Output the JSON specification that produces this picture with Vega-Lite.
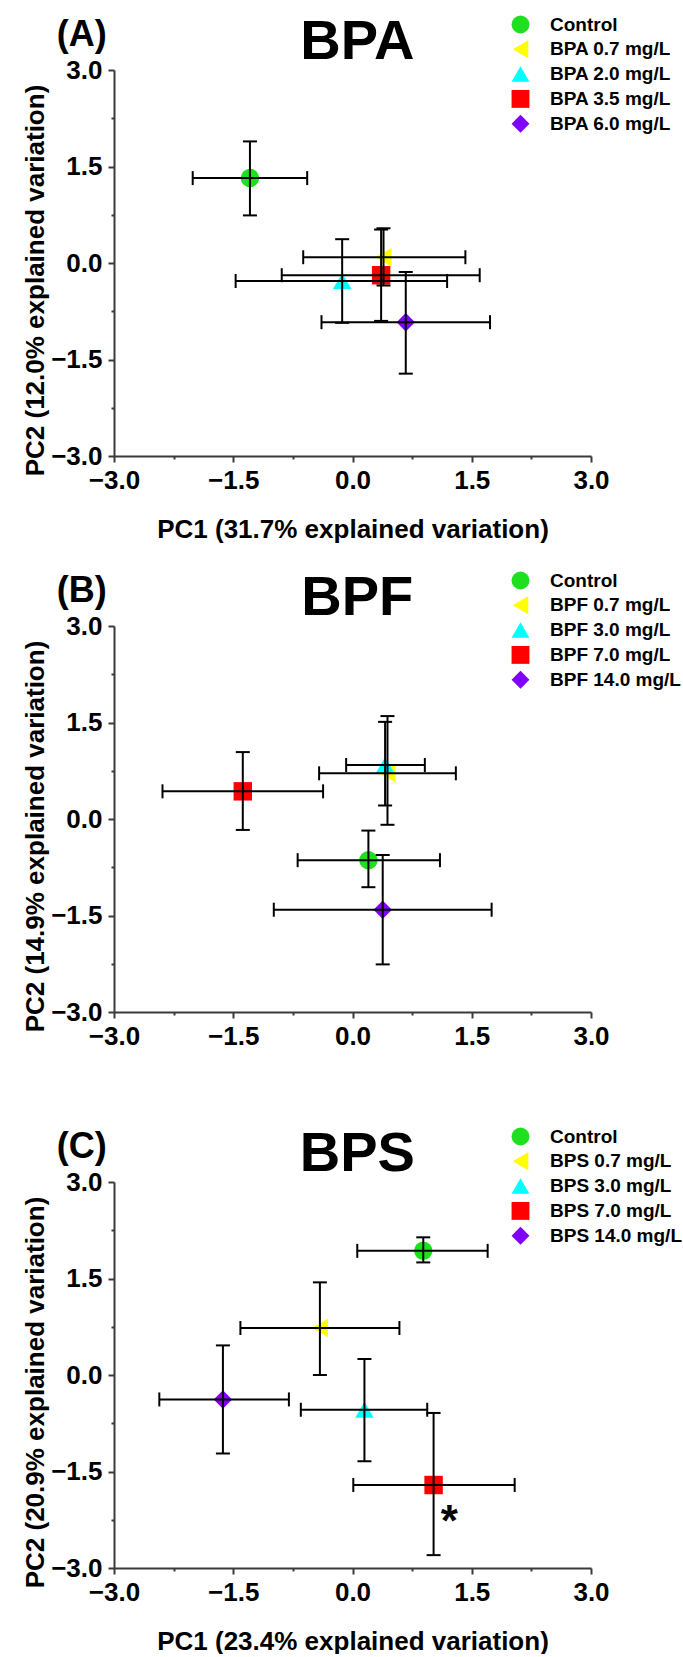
{
  "$schema": "https://vega.github.io/schema/vega-lite/v6.json",
  "padding": {"left": 21, "top": 14, "right": 0, "bottom": 0},
  "background": "white",
  "config": {
    "font": "Liberation Sans",
    "view": {"stroke": null},
    "axis": {
      "domainColor": "#3a3a3a", "domainWidth": 2, "tickColor": "#3a3a3a", "tickWidth": 2,
      "labelFont": "Liberation Sans", "labelFontSize": 26, "labelFontWeight": "bold", "labelColor": "#000",
      "titleFont": "Liberation Sans", "titleFontSize": 26, "titleFontWeight": "bold", "titleColor": "#000",
      "grid": false, "labelOverlap": false, "labelBound": false, "labelFlush": false, "labelPadding": 5
    },
    "axisX": {"titleBaseline": "alphabetic", "titleY": 81},
    "axisY": {"titleAngle": -90, "titleBaseline": "alphabetic", "titleAlign": "center", "titleX": -71, "titleY": 210, "labelPadding": 6},
    "legend": {
      "labelFont": "Liberation Sans", "labelFontSize": 19, "labelFontWeight": "bold", "labelColor": "#000",
      "symbolSize": 320, "rowPadding": 4.8, "labelOffset": 20, "padding": 0, "symbolStrokeWidth": 0, "labelLimit": 0
    }
  },
  "vconcat": [
    {
      "width": 477, "height": 386,
      "data": {"values": [
        {"group": "Control", "x": -1.29, "y": 1.32, "xlo": -2.01, "xhi": -0.57, "ylo": 0.74, "yhi": 1.89},
        {"group": "BPA 0.7 mg/L", "x": 0.39, "y": 0.09, "xlo": -0.62, "xhi": 1.42, "ylo": -0.35, "yhi": 0.54},
        {"group": "BPA 2.0 mg/L", "x": -0.13, "y": -0.28, "xlo": -1.47, "xhi": 1.19, "ylo": -0.93, "yhi": 0.37},
        {"group": "BPA 3.5 mg/L", "x": 0.36, "y": -0.19, "xlo": -0.89, "xhi": 1.6, "ylo": -0.9, "yhi": 0.52},
        {"group": "BPA 6.0 mg/L", "x": 0.67, "y": -0.92, "xlo": -0.39, "xhi": 1.73, "ylo": -1.72, "yhi": -0.14}
      ]},
      "layer": [
        {
          "mark": {"type": "point", "filled": true, "size": 340, "opacity": 1, "strokeWidth": 0},
          "encoding": {
            "x": {"field": "x", "type": "quantitative", "scale": {"domain": [-3, 3], "nice": false, "zero": false}, "title": "PC1 (31.7% explained variation)",
              "axis": {"values": [-3, -2.25, -1.5, -0.75, 0, 0.75, 1.5, 2.25, 3], "labelExpr": "abs(datum.value % 1.5) < 0.001 ? format(datum.value, '.1f') : ''", "tickSize": {"condition": {"test": "abs(datum.value % 1.5) < 0.001", "value": 6}, "value": 3}}},
            "y": {"field": "y", "type": "quantitative", "scale": {"domain": [-3, 3], "nice": false, "zero": false}, "title": "PC2 (12.0% explained variation)",
              "axis": {"values": [-3, -2.25, -1.5, -0.75, 0, 0.75, 1.5, 2.25, 3], "labelExpr": "abs(datum.value % 1.5) < 0.001 ? format(datum.value, '.1f') : ''", "tickSize": {"condition": {"test": "abs(datum.value % 1.5) < 0.001", "value": 6}, "value": 3}}},
            "color": {"field": "group", "type": "nominal", "scale": {"domain": ["Control", "BPA 0.7 mg/L", "BPA 2.0 mg/L", "BPA 3.5 mg/L", "BPA 6.0 mg/L"], "range": ["#1ee01e", "#ffff00", "#00ffff", "#ff0000", "#8000ff"]}, "legend": {"title": null, "orient": "none", "legendX": 397, "legendY": -55}},
            "shape": {"field": "group", "type": "nominal", "scale": {"domain": ["Control", "BPA 0.7 mg/L", "BPA 2.0 mg/L", "BPA 3.5 mg/L", "BPA 6.0 mg/L"], "range": ["circle", "triangle-left", "triangle-up", "square", "diamond"]}, "legend": {"title": null, "orient": "none", "legendX": 397, "legendY": -55}}
          }
        },
        {"mark": {"type": "rule", "color": "#000", "strokeWidth": 2},
          "encoding": {"x": {"field": "xlo", "type": "quantitative", "title": "PC1 (31.7% explained variation)"}, "x2": {"field": "xhi"}, "y": {"field": "y", "type": "quantitative", "title": "PC2 (12.0% explained variation)"}}},
        {"mark": {"type": "rule", "color": "#000", "strokeWidth": 2},
          "encoding": {"x": {"field": "x", "type": "quantitative", "title": "PC1 (31.7% explained variation)"}, "y": {"field": "ylo", "type": "quantitative", "title": "PC2 (12.0% explained variation)"}, "y2": {"field": "yhi"}}},
        {"mark": {"type": "tick", "orient": "vertical", "color": "#000", "size": 14, "thickness": 2, "opacity": 1},
          "encoding": {"x": {"field": "xlo", "type": "quantitative", "title": "PC1 (31.7% explained variation)"}, "y": {"field": "y", "type": "quantitative", "title": "PC2 (12.0% explained variation)"}}},
        {"mark": {"type": "tick", "orient": "vertical", "color": "#000", "size": 14, "thickness": 2, "opacity": 1},
          "encoding": {"x": {"field": "xhi", "type": "quantitative", "title": "PC1 (31.7% explained variation)"}, "y": {"field": "y", "type": "quantitative", "title": "PC2 (12.0% explained variation)"}}},
        {"mark": {"type": "tick", "orient": "horizontal", "color": "#000", "size": 14, "thickness": 2, "opacity": 1},
          "encoding": {"x": {"field": "x", "type": "quantitative", "title": "PC1 (31.7% explained variation)"}, "y": {"field": "ylo", "type": "quantitative", "title": "PC2 (12.0% explained variation)"}}},
        {"mark": {"type": "tick", "orient": "horizontal", "color": "#000", "size": 14, "thickness": 2, "opacity": 1},
          "encoding": {"x": {"field": "x", "type": "quantitative", "title": "PC1 (31.7% explained variation)"}, "y": {"field": "yhi", "type": "quantitative", "title": "PC2 (12.0% explained variation)"}}},
        {"data": {"values": [{"label": "(A)", "x": -3.72, "y": 3.37}]},
          "mark": {"type": "text", "align": "left", "baseline": "alphabetic", "fontSize": 36, "fontWeight": "bold", "color": "#000"},
          "encoding": {"x": {"field": "x", "type": "quantitative", "title": "PC1 (31.7% explained variation)"}, "y": {"field": "y", "type": "quantitative", "title": "PC2 (12.0% explained variation)"}, "text": {"field": "label"}}},
        {"data": {"values": [{"label": "BPA", "x": 0.06, "y": 3.17}]},
          "mark": {"type": "text", "align": "center", "baseline": "alphabetic", "fontSize": 56, "fontWeight": "bold", "color": "#000"},
          "encoding": {"x": {"field": "x", "type": "quantitative", "title": "PC1 (31.7% explained variation)"}, "y": {"field": "y", "type": "quantitative", "title": "PC2 (12.0% explained variation)"}, "text": {"field": "label"}}}
      ]
    },
    {
      "width": 477, "height": 386,
      "data": {"values": [
        {"group": "Control", "x": 0.2, "y": -0.64, "xlo": -0.69, "xhi": 1.1, "ylo": -1.06, "yhi": -0.18},
        {"group": "BPF 0.7 mg/L", "x": 0.44, "y": 0.71, "xlo": -0.42, "xhi": 1.3, "ylo": -0.09, "yhi": 1.6},
        {"group": "BPF 3.0 mg/L", "x": 0.41, "y": 0.84, "xlo": -0.08, "xhi": 0.91, "ylo": 0.21, "yhi": 1.51},
        {"group": "BPF 7.0 mg/L", "x": -1.38, "y": 0.43, "xlo": -2.39, "xhi": -0.37, "ylo": -0.17, "yhi": 1.04},
        {"group": "BPF 14.0 mg/L", "x": 0.38, "y": -1.41, "xlo": -0.99, "xhi": 1.75, "ylo": -2.26, "yhi": -0.56}
      ]},
      "layer": [
        {
          "mark": {"type": "point", "filled": true, "size": 340, "opacity": 1, "strokeWidth": 0},
          "encoding": {
            "x": {"field": "x", "type": "quantitative", "scale": {"domain": [-3, 3], "nice": false, "zero": false}, "title": null,
              "axis": {"values": [-3, -2.25, -1.5, -0.75, 0, 0.75, 1.5, 2.25, 3], "labelExpr": "abs(datum.value % 1.5) < 0.001 ? format(datum.value, '.1f') : ''", "tickSize": {"condition": {"test": "abs(datum.value % 1.5) < 0.001", "value": 6}, "value": 3}}},
            "y": {"field": "y", "type": "quantitative", "scale": {"domain": [-3, 3], "nice": false, "zero": false}, "title": "PC2 (14.9% explained variation)",
              "axis": {"values": [-3, -2.25, -1.5, -0.75, 0, 0.75, 1.5, 2.25, 3], "labelExpr": "abs(datum.value % 1.5) < 0.001 ? format(datum.value, '.1f') : ''", "tickSize": {"condition": {"test": "abs(datum.value % 1.5) < 0.001", "value": 6}, "value": 3}}},
            "color": {"field": "group", "type": "nominal", "scale": {"domain": ["Control", "BPF 0.7 mg/L", "BPF 3.0 mg/L", "BPF 7.0 mg/L", "BPF 14.0 mg/L"], "range": ["#1ee01e", "#ffff00", "#00ffff", "#ff0000", "#8000ff"]}, "legend": {"title": null, "orient": "none", "legendX": 397, "legendY": -55}},
            "shape": {"field": "group", "type": "nominal", "scale": {"domain": ["Control", "BPF 0.7 mg/L", "BPF 3.0 mg/L", "BPF 7.0 mg/L", "BPF 14.0 mg/L"], "range": ["circle", "triangle-left", "triangle-up", "square", "diamond"]}, "legend": {"title": null, "orient": "none", "legendX": 397, "legendY": -55}}
          }
        },
        {"mark": {"type": "rule", "color": "#000", "strokeWidth": 2},
          "encoding": {"x": {"field": "xlo", "type": "quantitative", "title": null}, "x2": {"field": "xhi"}, "y": {"field": "y", "type": "quantitative", "title": "PC2 (14.9% explained variation)"}}},
        {"mark": {"type": "rule", "color": "#000", "strokeWidth": 2},
          "encoding": {"x": {"field": "x", "type": "quantitative", "title": null}, "y": {"field": "ylo", "type": "quantitative", "title": "PC2 (14.9% explained variation)"}, "y2": {"field": "yhi"}}},
        {"mark": {"type": "tick", "orient": "vertical", "color": "#000", "size": 14, "thickness": 2, "opacity": 1},
          "encoding": {"x": {"field": "xlo", "type": "quantitative", "title": null}, "y": {"field": "y", "type": "quantitative", "title": "PC2 (14.9% explained variation)"}}},
        {"mark": {"type": "tick", "orient": "vertical", "color": "#000", "size": 14, "thickness": 2, "opacity": 1},
          "encoding": {"x": {"field": "xhi", "type": "quantitative", "title": null}, "y": {"field": "y", "type": "quantitative", "title": "PC2 (14.9% explained variation)"}}},
        {"mark": {"type": "tick", "orient": "horizontal", "color": "#000", "size": 14, "thickness": 2, "opacity": 1},
          "encoding": {"x": {"field": "x", "type": "quantitative", "title": null}, "y": {"field": "ylo", "type": "quantitative", "title": "PC2 (14.9% explained variation)"}}},
        {"mark": {"type": "tick", "orient": "horizontal", "color": "#000", "size": 14, "thickness": 2, "opacity": 1},
          "encoding": {"x": {"field": "x", "type": "quantitative", "title": null}, "y": {"field": "yhi", "type": "quantitative", "title": "PC2 (14.9% explained variation)"}}},
        {"data": {"values": [{"label": "(B)", "x": -3.72, "y": 3.37}]},
          "mark": {"type": "text", "align": "left", "baseline": "alphabetic", "fontSize": 36, "fontWeight": "bold", "color": "#000"},
          "encoding": {"x": {"field": "x", "type": "quantitative", "title": null}, "y": {"field": "y", "type": "quantitative", "title": "PC2 (14.9% explained variation)"}, "text": {"field": "label"}}},
        {"data": {"values": [{"label": "BPF", "x": 0.06, "y": 3.17}]},
          "mark": {"type": "text", "align": "center", "baseline": "alphabetic", "fontSize": 56, "fontWeight": "bold", "color": "#000"},
          "encoding": {"x": {"field": "x", "type": "quantitative", "title": null}, "y": {"field": "y", "type": "quantitative", "title": "PC2 (14.9% explained variation)"}, "text": {"field": "label"}}}
      ]
    },
    {
      "width": 477, "height": 386,
      "data": {"values": [
        {"group": "Control", "x": 0.89, "y": 1.93, "xlo": 0.06, "xhi": 1.7, "ylo": 1.75, "yhi": 2.14},
        {"group": "BPS 0.7 mg/L", "x": -0.41, "y": 0.73, "xlo": -1.41, "xhi": 0.59, "ylo": 0.0, "yhi": 1.44},
        {"group": "BPS 3.0 mg/L", "x": 0.15, "y": -0.54, "xlo": -0.65, "xhi": 0.94, "ylo": -1.34, "yhi": 0.25},
        {"group": "BPS 7.0 mg/L", "x": 1.02, "y": -1.71, "xlo": 0.01, "xhi": 2.04, "ylo": -2.8, "yhi": -0.59},
        {"group": "BPS 14.0 mg/L", "x": -1.63, "y": -0.38, "xlo": -2.43, "xhi": -0.8, "ylo": -1.22, "yhi": 0.46}
      ]},
      "layer": [
        {
          "mark": {"type": "point", "filled": true, "size": 340, "opacity": 1, "strokeWidth": 0},
          "encoding": {
            "x": {"field": "x", "type": "quantitative", "scale": {"domain": [-3, 3], "nice": false, "zero": false}, "title": "PC1 (23.4% explained variation)",
              "axis": {"values": [-3, -2.25, -1.5, -0.75, 0, 0.75, 1.5, 2.25, 3], "labelExpr": "abs(datum.value % 1.5) < 0.001 ? format(datum.value, '.1f') : ''", "tickSize": {"condition": {"test": "abs(datum.value % 1.5) < 0.001", "value": 6}, "value": 3}}},
            "y": {"field": "y", "type": "quantitative", "scale": {"domain": [-3, 3], "nice": false, "zero": false}, "title": "PC2 (20.9% explained variation)",
              "axis": {"values": [-3, -2.25, -1.5, -0.75, 0, 0.75, 1.5, 2.25, 3], "labelExpr": "abs(datum.value % 1.5) < 0.001 ? format(datum.value, '.1f') : ''", "tickSize": {"condition": {"test": "abs(datum.value % 1.5) < 0.001", "value": 6}, "value": 3}}},
            "color": {"field": "group", "type": "nominal", "scale": {"domain": ["Control", "BPS 0.7 mg/L", "BPS 3.0 mg/L", "BPS 7.0 mg/L", "BPS 14.0 mg/L"], "range": ["#1ee01e", "#ffff00", "#00ffff", "#ff0000", "#8000ff"]}, "legend": {"title": null, "orient": "none", "legendX": 397, "legendY": -55}},
            "shape": {"field": "group", "type": "nominal", "scale": {"domain": ["Control", "BPS 0.7 mg/L", "BPS 3.0 mg/L", "BPS 7.0 mg/L", "BPS 14.0 mg/L"], "range": ["circle", "triangle-left", "triangle-up", "square", "diamond"]}, "legend": {"title": null, "orient": "none", "legendX": 397, "legendY": -55}}
          }
        },
        {"mark": {"type": "rule", "color": "#000", "strokeWidth": 2},
          "encoding": {"x": {"field": "xlo", "type": "quantitative", "title": "PC1 (23.4% explained variation)"}, "x2": {"field": "xhi"}, "y": {"field": "y", "type": "quantitative", "title": "PC2 (20.9% explained variation)"}}},
        {"mark": {"type": "rule", "color": "#000", "strokeWidth": 2},
          "encoding": {"x": {"field": "x", "type": "quantitative", "title": "PC1 (23.4% explained variation)"}, "y": {"field": "ylo", "type": "quantitative", "title": "PC2 (20.9% explained variation)"}, "y2": {"field": "yhi"}}},
        {"mark": {"type": "tick", "orient": "vertical", "color": "#000", "size": 14, "thickness": 2, "opacity": 1},
          "encoding": {"x": {"field": "xlo", "type": "quantitative", "title": "PC1 (23.4% explained variation)"}, "y": {"field": "y", "type": "quantitative", "title": "PC2 (20.9% explained variation)"}}},
        {"mark": {"type": "tick", "orient": "vertical", "color": "#000", "size": 14, "thickness": 2, "opacity": 1},
          "encoding": {"x": {"field": "xhi", "type": "quantitative", "title": "PC1 (23.4% explained variation)"}, "y": {"field": "y", "type": "quantitative", "title": "PC2 (20.9% explained variation)"}}},
        {"mark": {"type": "tick", "orient": "horizontal", "color": "#000", "size": 14, "thickness": 2, "opacity": 1},
          "encoding": {"x": {"field": "x", "type": "quantitative", "title": "PC1 (23.4% explained variation)"}, "y": {"field": "ylo", "type": "quantitative", "title": "PC2 (20.9% explained variation)"}}},
        {"mark": {"type": "tick", "orient": "horizontal", "color": "#000", "size": 14, "thickness": 2, "opacity": 1},
          "encoding": {"x": {"field": "x", "type": "quantitative", "title": "PC1 (23.4% explained variation)"}, "y": {"field": "yhi", "type": "quantitative", "title": "PC2 (20.9% explained variation)"}}},
        {"data": {"values": [{"label": "(C)", "x": -3.72, "y": 3.37, "size": 36}, {"label": "*", "x": 1.11, "y": -2.5, "size": 44}]},
          "mark": {"type": "text", "align": "left", "baseline": "alphabetic", "fontSize": 36, "fontWeight": "bold", "color": "#000"},
          "encoding": {"x": {"field": "x", "type": "quantitative", "title": "PC1 (23.4% explained variation)"}, "y": {"field": "y", "type": "quantitative", "title": "PC2 (20.9% explained variation)"}, "text": {"field": "label"}, "size": {"field": "size", "type": "quantitative", "scale": null, "legend": null}}},
        {"data": {"values": [{"label": "BPS", "x": 0.06, "y": 3.17}]},
          "mark": {"type": "text", "align": "center", "baseline": "alphabetic", "fontSize": 56, "fontWeight": "bold", "color": "#000"},
          "encoding": {"x": {"field": "x", "type": "quantitative", "title": "PC1 (23.4% explained variation)"}, "y": {"field": "y", "type": "quantitative", "title": "PC2 (20.9% explained variation)"}, "text": {"field": "label"}}}
      ]
    }
  ],
  "spacing": 170,
  "bounds": "flush",
  "resolve": {"scale": {"color": "independent", "shape": "independent", "x": "independent", "y": "independent"}, "legend": {"color": "independent", "shape": "independent"}}
}
